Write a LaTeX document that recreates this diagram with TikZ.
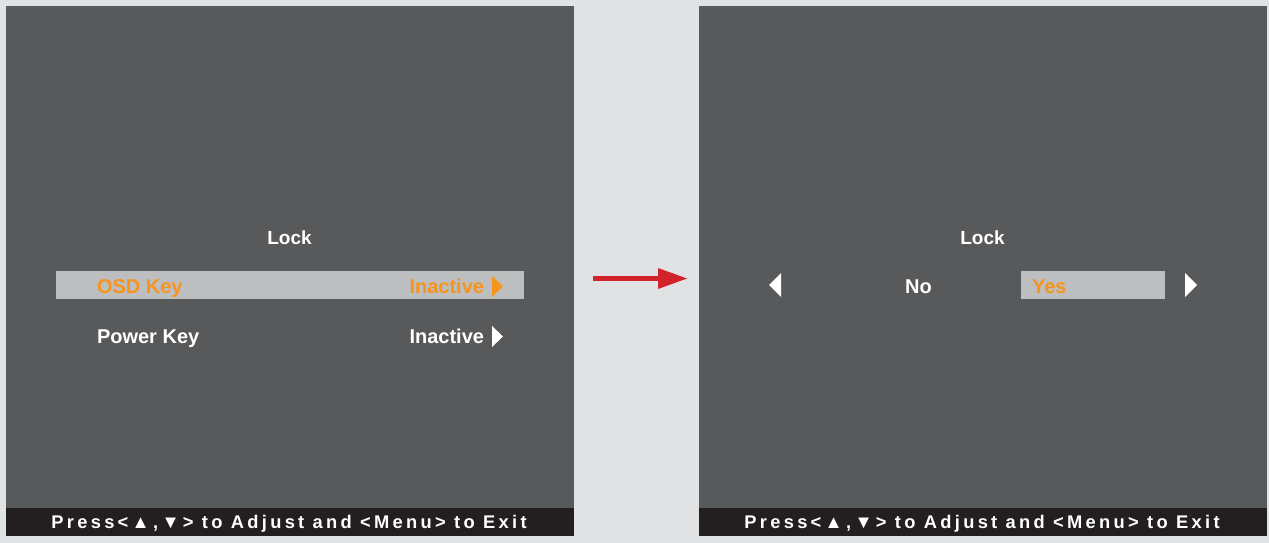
\documentclass[tikz,border=0pt]{standalone}
\usepackage{fontspec}
\setmainfont{Liberation Sans}
\newfontfamily\barfont[LetterSpace=18]{Liberation Sans}
\usetikzlibrary{arrows.meta}
\definecolor{bggray}{HTML}{E1E2E4}
\definecolor{panelgray}{HTML}{58595B}
\definecolor{hlgray}{HTML}{BCBEC0}
\definecolor{osdorange}{HTML}{F7941D}
\definecolor{bardark}{HTML}{231F20}
\definecolor{arrowred}{HTML}{D2232A}
\begin{document}
\begin{tikzpicture}[x=1pt,y=-1pt,
  panelbox/.style={fill=panelgray, draw=none, inner sep=0pt, outer sep=0pt, minimum width=568pt, minimum height=530pt, anchor=north west},
  barbox/.style={fill=bardark, draw=none, inner sep=0pt, outer sep=0pt, minimum width=568pt, minimum height=28pt, anchor=south west},
  titletxt/.style={font=\fontsize{19}{19}\selectfont\bfseries, inner sep=0pt, outer sep=0pt, text=white},
  txt/.style={font=\fontsize{20}{20}\selectfont\bfseries, inner sep=0pt, outer sep=0pt, text=white},
  seltxt/.style={txt, text=osdorange},
  bartxt/.style={font=\barfont\fontsize{18.3}{18.3}\selectfont\bfseries, inner sep=0pt, outer sep=0pt, text=white},
  hl/.style={fill=hlgray},
  marker/.style={fill=white},
  selmarker/.style={fill=osdorange},
  flow/.style={draw=arrowred, line width=5pt, -{Triangle[length=29pt,width=21pt,line width=0pt]}}
]
\path[fill=bggray] (0,0) rectangle (1269,543);
% panels
\node[panelbox] (lp) at (6,6) {};
\node[panelbox] (rp) at (699,6) {};
\node[barbox] (lbar) at (6,536) {};
\node[barbox] (rbar) at (699,536) {};
% left panel
\node[titletxt, anchor=base] (lock1) at (289.5,244) {Lock};
\fill[hl] (56,271) rectangle (524,299);
\node[seltxt, anchor=base west] (osd) at (97,293) {OSD Key};
\node[seltxt, anchor=base east] (osdval) at (484,293) {Inactive};
\fill[selmarker] (492,276) -- (503,286.5) -- (492,297) -- cycle;
\node[txt, anchor=base west] (pwr) at (97,343) {Power Key};
\node[txt, anchor=base east] (pwrval) at (484,343) {Inactive};
\fill[marker] (492,326) -- (503,336.5) -- (492,347) -- cycle;
\node[bartxt, anchor=base] (help1) at (289,528) {Press<▲,▼> to Adjust and <Menu> to Exit};
% right panel
\node[titletxt, anchor=base] (lock2) at (982.5,244) {Lock};
\fill[marker] (781,273) -- (769,285) -- (781,297) -- cycle;
\node[txt, anchor=base] (no) at (918.5,293) {No};
\fill[hl] (1021,271) rectangle (1165,299);
\node[seltxt, anchor=base west] (yes) at (1032,293) {Yes};
\fill[marker] (1185,273) -- (1197,285) -- (1185,297) -- cycle;
\node[bartxt, anchor=base] (help2) at (982,528) {Press<▲,▼> to Adjust and <Menu> to Exit};
% arrow
\coordinate (as) at (593,278.5);
\coordinate (ae) at (687,278.5);
\draw[flow] (as) -- (ae);
\end{tikzpicture}
\end{document}
